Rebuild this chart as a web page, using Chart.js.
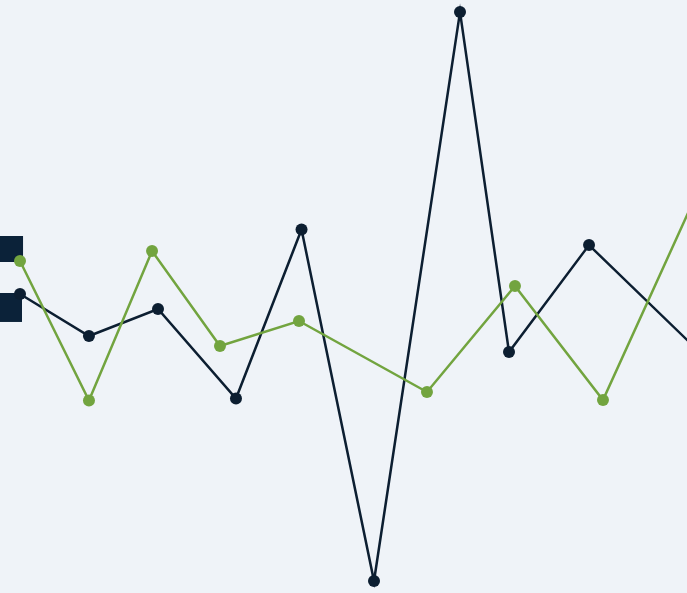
<!DOCTYPE html>
<html>
<head>
<meta charset="utf-8">
<style>
  html, body { margin: 0; padding: 0; background: #eff3f8; }
  #chart { display: block; }
</style>
<script src="https://cdn.jsdelivr.net/npm/chart.js@4/dist/chart.umd.min.js"></script>
</head>
<body>
<canvas id="chart" width="687" height="593"></canvas>
<script>
// Series A (navy): x positions and values
const navyX = [2.91, 12.95, 23.0, 34.35, 43.89, 54.44, 66.96, 74.09, 85.74, 104.8];
const navyY = [50.42, 43.34, 47.89, 32.80, 61.30, 2.02, 97.98, 40.64, 58.68, 37.3];

// Series B (green): x positions and values
const greenX = [2.91, 12.95, 22.13, 32.02, 43.52, 62.15, 74.96, 87.77, 104.8];
const greenY = [55.99, 32.46, 57.67, 41.65, 45.87, 33.90, 51.77, 32.55, 75.95];

// Square markers at the left edge
const markerX = [1.46, 1.09];
const markerY = [58.01, 48.15];
const markerSize = [18.4, 20.5];

const NAVY = '#0c1e31';
const GREEN = '#72a43f';

const zip = (xs, ys) => xs.map((x, i) => ({ x, y: ys[i] }));

new Chart(document.getElementById('chart'), {
  type: 'line',
  data: {
    datasets: [
      {
        label: 'B',
        data: zip(greenX, greenY),
        borderColor: GREEN,
        backgroundColor: GREEN,
        borderWidth: 2.5,
        pointRadius: 6,
        pointHoverRadius: 6,
        pointBorderWidth: 0,
        tension: 0,
        clip: false,
        order: 1
      },
      {
        label: 'A',
        data: zip(navyX, navyY),
        borderColor: NAVY,
        backgroundColor: NAVY,
        borderWidth: 2.5,
        pointRadius: 6,
        pointHoverRadius: 6,
        pointBorderWidth: 0,
        tension: 0,
        clip: false,
        order: 2
      },
      {
        label: 'markers',
        data: zip(markerX, markerY),
        showLine: false,
        pointStyle: 'rect',
        pointRadius: markerSize,
        pointBorderWidth: 0,
        backgroundColor: '#0b2239',
        borderColor: '#0b2239',
        clip: false,
        order: 3
      }
    ]
  },
  options: {
    responsive: false,
    animation: false,
    layout: { padding: 0, autoPadding: false },
    plugins: { legend: { display: false }, tooltip: { enabled: false } },
    scales: {
      x: { type: 'linear', min: 0, max: 100, display: false },
      y: { type: 'linear', min: 0, max: 100, display: false }
    }
  },
  plugins: [{
    id: 'bg',
    beforeDraw(chart) {
      const ctx = chart.ctx;
      ctx.save();
      ctx.fillStyle = '#eff3f8';
      ctx.fillRect(0, 0, chart.width, chart.height);
      ctx.restore();
    }
  }]
});
</script>
</body>
</html>
